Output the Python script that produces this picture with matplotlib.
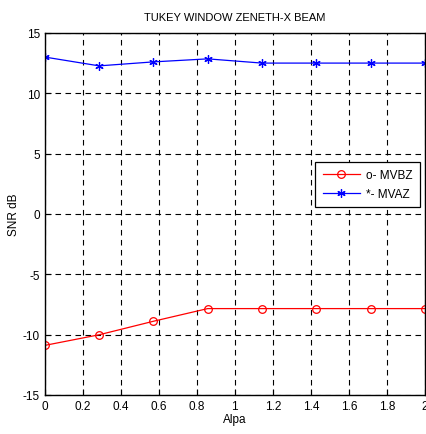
import matplotlib
matplotlib.use("Agg")
import matplotlib.pyplot as plt

plt.rcParams['font.family'] = ['Liberation Sans', 'DejaVu Sans']
plt.rcParams['axes.unicode_minus'] = False

alpha = [0.0, 0.2857, 0.5714, 0.8571, 1.1429, 1.4286, 1.7143, 2.0]
mvbz = [-10.9, -10.02, -8.9, -7.85, -7.85, -7.85, -7.85, -7.85]
mvaz = [13.0, 12.27, 12.6, 12.85, 12.5, 12.5, 12.5, 12.5]
xticks = [0, 0.2, 0.4, 0.6, 0.8, 1, 1.2, 1.4, 1.6, 1.8, 2]
xticklabels = ['0', '0.2', '0.4', '0.6', '0.8', '1', '1.2', '1.4', '1.6', '1.8', '2']
yticks = [-15, -10, -5, 0, 5, 10, 15]

fig = plt.figure(figsize=(4.27, 4.35), dpi=100)
ax = fig.add_axes([0.105, 0.090, 0.890, 0.832])

ax.plot(alpha, mvbz, color='red', lw=0.9, marker='o', ms=5.5, mfc='none',
        mec='red', mew=0.9, label='o- MVBZ')
ax.plot(alpha, mvaz, color='blue', lw=0.9, marker=(6, 2, 0), ms=6,
        mec='blue', mew=0.9, label='*- MVAZ')

ax.set_xlim(0, 2)
ax.set_ylim(-15, 15)
ax.set_xticks(xticks)
ax.set_xticklabels(xticklabels)
ax.set_yticks(yticks)
ax.grid(True, color='black', linestyle=(0, (5, 4)), linewidth=0.8)
ax.tick_params(direction='in', labelsize=8.5, length=4, width=0.8, colors='black')
for s in ax.spines.values():
    s.set_linewidth(1.0)

ax.set_title('TUKEY WINDOW ZENETH-X BEAM', fontsize=8, pad=9)
ax.set_xlabel('Alpa', fontsize=8.5, labelpad=1)
ax.set_ylabel('SNR dB', fontsize=8.5, labelpad=2)

leg = ax.legend(loc='upper right', bbox_to_anchor=(0.987, 0.644), fontsize=8.5,
                frameon=True, fancybox=False, edgecolor='black', framealpha=1,
                handlelength=3.2, borderpad=0.6, labelspacing=0.6, borderaxespad=0,
                handletextpad=0.5)
leg.get_frame().set_linewidth(0.9)

fig.savefig('out.png', dpi=100)
